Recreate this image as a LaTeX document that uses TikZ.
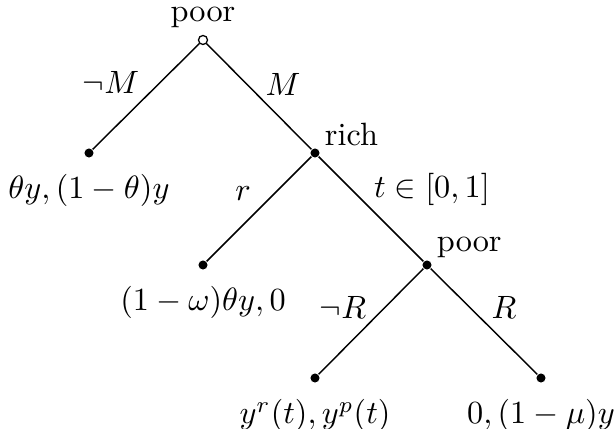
\documentclass[tikz,border=0pt]{standalone}
\usepackage{amssymb}
\begin{document}
\begin{tikzpicture}[x=0.31pt, y=-0.31pt, line width=0.45pt,
    dot/.style={circle, fill=black, inner sep=0pt, minimum size=2.8pt},
    hollow/.style={circle, draw=black, fill=white, inner sep=0pt, minimum size=2.8pt, line width=0.4pt}]

    \useasboundingbox (0,0) rectangle (616,429);

    % Nodes
    \node[hollow] (root) at (203,40) {};
    \node[dot] (left) at (89,153) {};
    \node[dot] (rich) at (315,153) {};
    \node[dot] (keep) at (203,265) {};
    \node[dot] (poor) at (427,265) {};
    \node[dot] (noR) at (315,378) {};
    \node[dot] (yesR) at (541,378) {};

    % Edges
    \draw (root) -- (left);
    \draw (root) -- (rich);
    \draw (rich) -- (keep);
    \draw (rich) -- (poor);
    \draw (poor) -- (noR);
    \draw (poor) -- (yesR);

    % Player labels
    \node[above=-1.5pt] at (root.north) {poor};
    \node[anchor=south west, inner sep=1pt] at (321,150) {rich};
    \node[anchor=south west, inner sep=1pt] at (433,262) {poor};

    % Payoffs
    \node[below=1.5pt] at (left.south) {$\theta y, (1-\theta) y$};
    \node[below=1.5pt] at (keep.south) {$(1-\omega)\theta y, 0$};
    \node[below=1.5pt] at (noR.south) {$y^r(t), y^p(t)$};
    \node[below=1.5pt] at (yesR.south) {$0, (1-\mu) y$};

    % Actions
    \node at (111,82) {$\neg M$};
    \node at (283,84) {$M$};
    \node at (243,194) {$r$};
    \node at (432,189) {$t \in [0,1]$};
    \node at (343,307) {$\neg R$};
    \node at (504,307) {$R$};

\end{tikzpicture}
\end{document}
